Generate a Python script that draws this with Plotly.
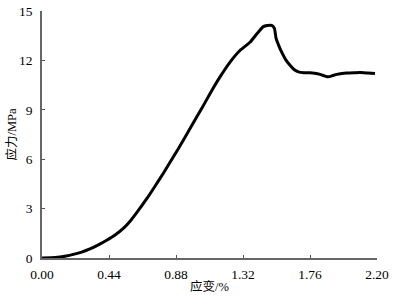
import plotly.graph_objects as go

strain = [0.00, 0.06, 0.118, 0.16, 0.206, 0.26, 0.315, 0.37, 0.425, 0.48, 0.534, 0.58, 0.622, 0.688,
          0.74, 0.797, 0.86, 0.928, 0.99, 1.059, 1.12, 1.169, 1.235, 1.30, 1.366, 1.41, 1.453,
          1.48, 1.508, 1.526, 1.537, 1.555, 1.574, 1.60, 1.629, 1.655, 1.684, 1.72, 1.76, 1.79,
          1.826, 1.855, 1.88, 1.91, 1.936, 1.97, 2.00, 2.05, 2.09, 2.14, 2.187]
stress = [0.00, 0.01, 0.06, 0.12, 0.22, 0.36, 0.55, 0.80, 1.08, 1.40, 1.80, 2.25, 2.75, 3.60,
          4.33, 5.15, 6.10, 7.15, 8.15, 9.25, 10.25, 11.00, 11.90, 12.60, 13.10, 13.60, 14.05,
          14.12, 14.13, 13.95, 13.35, 12.90, 12.50, 12.05, 11.70, 11.45, 11.30, 11.25, 11.25, 11.22,
          11.15, 11.06, 11.00, 11.08, 11.15, 11.20, 11.23, 11.25, 11.26, 11.23, 11.20]

xtick_vals = [0.00, 0.44, 0.88, 1.32, 1.76, 2.20]
xtick_text = ["0.00", "0.44", "0.88", "1.32", "1.76", "2.20"]
ytick_vals = [0, 3, 6, 9, 12, 15]

font_family = "Liberation Serif, Noto Sans CJK SC, serif"

fig = go.Figure()
fig.add_trace(go.Scatter(
    x=strain, y=stress, mode="lines",
    line=dict(color="black", width=3, shape="spline", smoothing=0.6),
    showlegend=False,
))

fig.update_layout(
    width=397, height=297,
    margin=dict(l=42, r=20, t=11, b=39),
    paper_bgcolor="white", plot_bgcolor="white",
    font=dict(family=font_family, size=13.5, color="black"),
    xaxis=dict(
        range=[0, 2.2], tickvals=xtick_vals, ticktext=xtick_text,
        ticks="inside", ticklen=3, tickcolor="#555", tickwidth=1,
        showline=True, linecolor="#666", linewidth=1.6,
        showgrid=False, zeroline=False, ticklabelstandoff=3, automargin=False,
        title=dict(text="应变/%", font=dict(size=12.5), standoff=1),
    ),
    yaxis=dict(
        range=[0, 15], tickvals=ytick_vals,
        ticks="inside", ticklen=3, tickcolor="#555", tickwidth=1,
        showline=True, linecolor="#666", linewidth=1.6,
        showgrid=False, zeroline=False, ticklabelstandoff=5, automargin=False,
        title=dict(text="应力/MPa", font=dict(size=12.5), standoff=0),
    ),
)

fig.write_html("out.html")
